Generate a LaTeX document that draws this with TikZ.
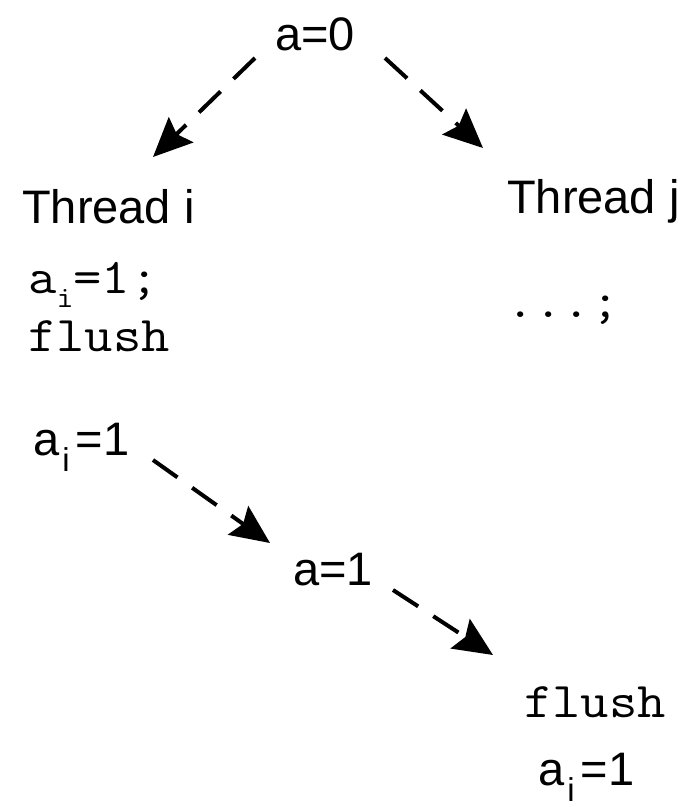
\documentclass[tikz,border=0pt]{standalone}
\usepackage{fontspec}
\usepackage{graphicx}
\setmainfont{Liberation Sans}
\usetikzlibrary{arrows.meta}
\newcommand{\subi}{\hspace{3pt}\raisebox{-16pt}{\fontsize{33}{33}\selectfont i}\hspace{6pt}}
\newcommand{\ttsubi}{\raisebox{-14pt}{\fontsize{30}{30}\selectfont\ttfamily i}}
\newcommand{\cw}[1]{\scalebox{1.1}[1]{#1}}
\tikzset{
  lbl/.style={inner sep=0pt, anchor=base west, font=\fontsize{47}{50}\selectfont},
  code/.style={inner sep=0pt, anchor=base west, font=\fontsize{50}{54}\selectfont\ttfamily},
  flow/.style={line width=4pt, dash pattern=on 30pt off 18pt,
    -{Stealth[length=39pt,width=35pt,inset=6pt]}},
}
\begin{document}
\begin{tikzpicture}[x=1pt,y=-1pt]
\useasboundingbox (0,0) rectangle (682,807);
% texts
\node[lbl]  (a0)  at (275,50)  {a=0};
\node[lbl]  (ti)  at (22,223)  {Thread i};
\node[lbl]  (tj)  at (507,213) {Thread j};
\node[code] (c1)  at (28,293)  {\cw{a\ttsubi=1;}};
\node[code] (c2)  at (28,351)  {\cw{flush}};
\node[code] (c3)  at (506,317) {\cw{...;}};
\node[lbl]  (ai1) at (33,455)  {a\subi=1};
\node[lbl]  (a1)  at (293,585) {a=1};
\node[code] (c4)  at (524,717) {\cw{flush}};
\node[lbl]  (ai2) at (538,785) {a\subi=1};
% arrow end points
\coordinate (p1s) at (255,58);  \coordinate (p1e) at (153,157);
\coordinate (p2s) at (385,58);  \coordinate (p2e) at (483,148);
\coordinate (p3s) at (153,460); \coordinate (p3e) at (270,543);
\coordinate (p4s) at (393,590); \coordinate (p4e) at (493,655);
\draw[flow] (p1s) -- (p1e);
\draw[flow] (p2s) -- (p2e);
\draw[flow] (p3s) -- (p3e);
\draw[flow] (p4s) -- (p4e);
\end{tikzpicture}
\end{document}
